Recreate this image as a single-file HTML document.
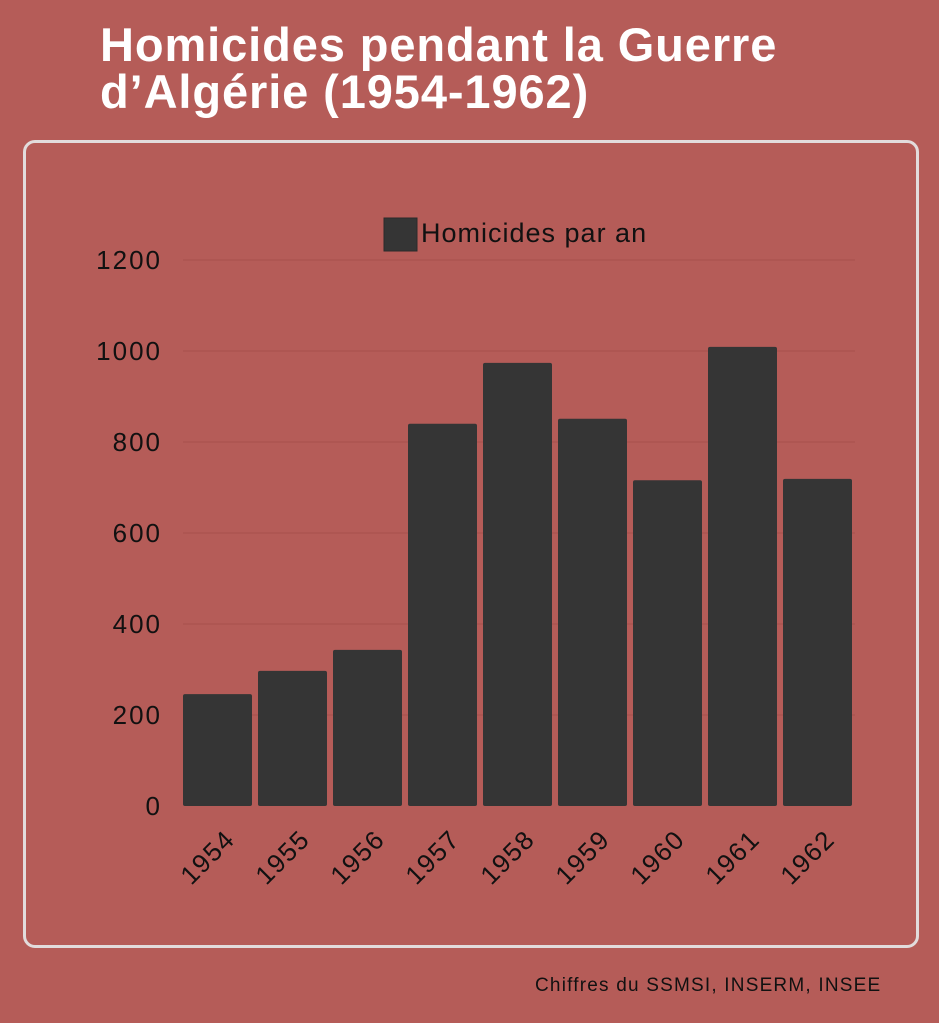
<!DOCTYPE html>
<html><head><meta charset="utf-8"><style>
body{margin:0;width:939px;height:1023px;background:#b55c58;font-family:"Liberation Sans",sans-serif;overflow:hidden;position:relative}
#title{position:absolute;left:100px;top:21px;color:#fff;font-weight:bold;font-size:47px;letter-spacing:0.9px;line-height:47px;margin:0}
#frame{position:absolute;left:23px;top:140px;width:896px;height:808px;border:3px solid #e2dcdc;border-radius:12px;box-sizing:border-box}
#src{position:absolute;left:535px;top:975px;font-size:19px;letter-spacing:1.2px;color:#111}
svg{position:absolute;left:0;top:0}
</style></head><body>
<h1 id="title">Homicides pendant la Guerre<br>d’Algérie (1954-1962)</h1>
<div id="frame"></div>
<div id="src">Chiffres du SSMSI, INSERM, INSEE</div>
<svg id="chart" width="939" height="1023">
<rect x="384" y="218" width="33" height="33" fill="#353535" stroke="#2a2a2a"/>
<text x="421" y="242" font-size="27" letter-spacing="1" fill="#111" font-family="Liberation Sans, sans-serif">Homicides par an</text>
</svg>
<script>
const categories=['1954','1955','1956','1957','1958','1959','1960','1961','1962'];
const values=[246,297,343,840,974,851,716,1009,719];
const yTicks=[0,200,400,600,800,1000,1200];
const svg=document.getElementById('chart');const NS='http://www.w3.org/2000/svg';
const x0=180,band=75,bw=69,yBase=806,yTop=260,yMax=1200;
const y=v=>yBase-(v/yMax)*(yBase-yTop);
function mk(t,a){const e=document.createElementNS(NS,t);for(const k in a)e.setAttribute(k,a[k]);svg.appendChild(e);return e;}
yTicks.forEach(t=>{
 if(t>0){const g=mk('line',{x1:183,x2:855,y1:y(t),y2:y(t),stroke:'#a64f4b','stroke-width':1});
 
 }
 const l=mk('text',{x:162,y:y(t)+9,'text-anchor':'end','font-size':26,'letter-spacing':2,fill:'#111','font-family':'Liberation Sans, sans-serif'});
 l.textContent=t;
 
 
});
categories.forEach((c,i)=>{
 const bx=x0+i*band+3;
 const r=mk('rect',{x:bx,y:y(values[i]),width:bw,height:yBase-y(values[i]),fill:'#353535',rx:2});
 
 
 const cx=bx+bw/2+6,cy=828;
 const t=mk('text',{x:cx,y:cy,'text-anchor':'end','font-size':26,'letter-spacing':1.5,fill:'#111','font-family':'Liberation Sans, sans-serif',transform:`rotate(-45 ${cx} ${cy})`,dy:'0.7em'});
 t.textContent=c;
 
 
});
</script>
</body></html>
